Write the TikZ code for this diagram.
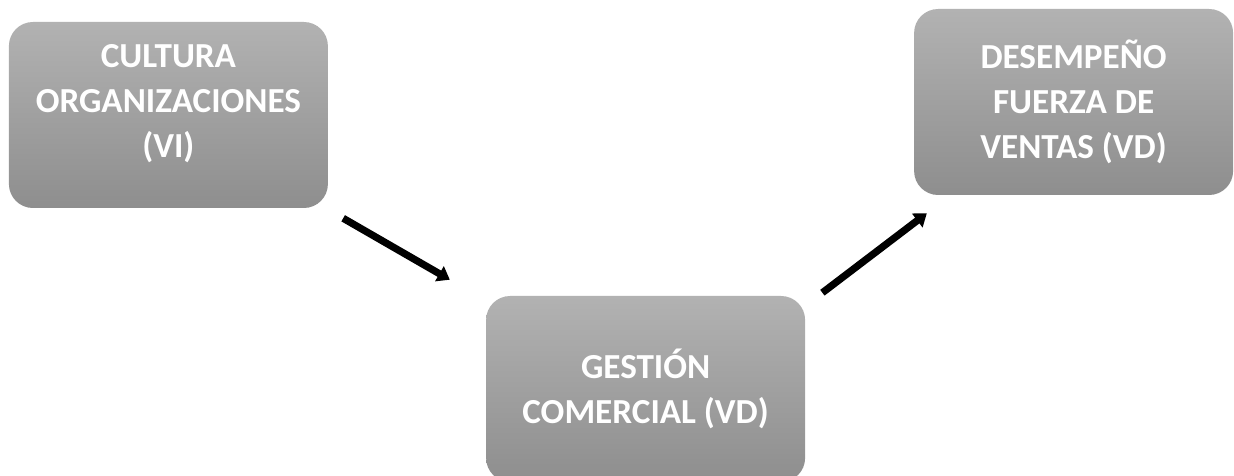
\documentclass[tikz,border=0pt]{standalone}
\usepackage{fontspec}
\setmainfont{Carlito}
\usepackage{tikz}
\usetikzlibrary{arrows.meta,positioning,calc}
\definecolor{grisClaro}{RGB}{178,178,178}
\definecolor{grisMedio}{RGB}{142,142,142}

\begin{document}
\begin{tikzpicture}[
  var/.style  = {rectangle, rounded corners=0.6cm, minimum width=7.975cm, minimum height=4.65cm,
                 top color=grisClaro, bottom color=grisMedio, draw=none,
                 text=white, align=center, font=\fontsize{25}{32}\selectfont\bfseries},
  flow/.style = {-{Triangle[length=0.3cm,width=0.42cm]}, line width=0.18cm, color=black},
]
\useasboundingbox (0,0) rectangle (30.85,-11.9);
\begin{scope}
\clip (0,0) rectangle (30.85,-11.9);
% ── Variables ────────────────────────────────────────────────
\node[var] (cult)  at (4.21,-2.875)  {CULTURA\\ORGANIZACIONES\\(VI)\\[-0.4cm]};
\node[var] (gest)  at (16.14,-9.725) {GESTIÓN\\COMERCIAL (VD)};
\node[var] (desem) at (26.84,-2.55)  {DESEMPEÑO\\FUERZA DE\\VENTAS (VD)};

% ── Relaciones ───────────────────────────────────────────────
\draw[flow] ([shift={(0.375,-0.25)}]cult.south east) -- ([shift={(-0.9,0.4)}]gest.north west);
\draw[flow] ([shift={(0.425,0.075)}]gest.north east) -- ([shift={(0.325,-0.45)}]desem.south west);
\end{scope}
\end{tikzpicture}
\end{document}
